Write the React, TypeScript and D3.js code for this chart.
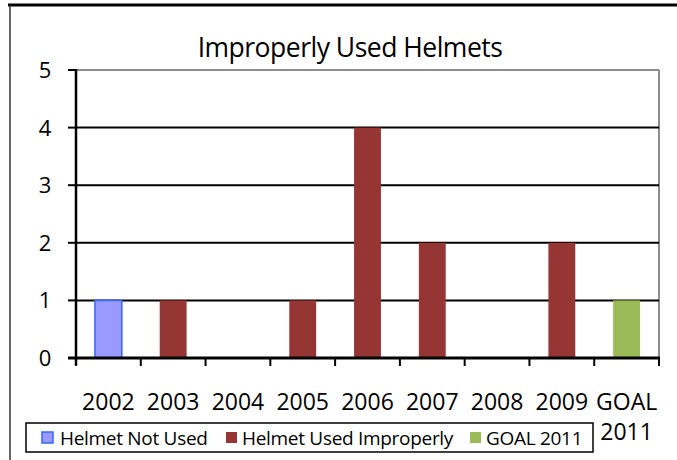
import React from "react";
import * as d3 from "d3";

const categories = ["2002", "2003", "2004", "2005", "2006", "2007", "2008", "2009", "GOAL 2011"];
const helmetNotUsed = [1, 0, 0, 0, 0, 0, 0, 0, 0];
const helmetUsedImproperly = [0, 1, 0, 1, 4, 2, 0, 2, 0];
const goal2011 = [0, 0, 0, 0, 0, 0, 0, 0, 1];
const yTicks = [0, 1, 2, 3, 4, 5];
const seriesNames = ["Helmet Not Used", "Helmet Used Improperly", "GOAL 2011"];

const W = 677;
const H = 460;
const FONT = "'Open Sans', 'Noto Sans', sans-serif";

export default function App() {
  const plot = { left: 76, right: 659, top: 70, bottom: 358 };
  const x = d3.scaleBand<string>().domain(categories).range([plot.left, plot.right]).paddingInner(0).paddingOuter(0);
  const y = d3.scaleLinear().domain([0, 5]).range([plot.bottom, plot.top]);
  const barW = x.bandwidth() * 0.415;

  const series = [
    { name: seriesNames[0], values: helmetNotUsed, fill: "#9999FF", stroke: "#3366FF" },
    { name: seriesNames[1], values: helmetUsedImproperly, fill: "#963634", stroke: "none" },
    { name: seriesNames[2], values: goal2011, fill: "#9BBB59", stroke: "none" },
  ];

  const bounds = categories.map((_, i) => plot.left + i * x.step()).concat([plot.right]);

  const legendItems = [
    { sx: 42, tx: 60 },
    { sx: 226, tx: 242 },
    { sx: 470, tx: 486 },
  ];

  return (
    <svg width={W} height={H} style={{ position: "absolute", left: 0, top: 0, background: "#fff" }} fontFamily={FONT}>
      <rect x={0} y={0} width={W} height={H} fill="#fff" />
      {/* outer frame */}
      <line x1={8} x2={W} y1={5} y2={5} stroke="#000" strokeWidth={3} />
      <line x1={10} x2={10} y1={5} y2={H} stroke="#333" strokeWidth={1.5} />

      {/* title */}
      <text x={350} y={57} textAnchor="middle" fontSize={26.5} fill="#000" letterSpacing={-0.5}>
        Improperly Used Helmets
      </text>

      {/* plot border (top/right) */}
      <line x1={plot.left} x2={plot.right} y1={plot.top} y2={plot.top} stroke="#8c8c8c" strokeWidth={2} />
      <line x1={plot.right} x2={plot.right} y1={plot.top} y2={plot.bottom} stroke="#8c8c8c" strokeWidth={2} />

      {/* gridlines */}
      {yTicks.filter((t) => t > 0 && t < 5).map((t) => (
        <line key={t} x1={plot.left} x2={plot.right} y1={y(t)} y2={y(t)} stroke="#000" strokeWidth={2} />
      ))}

      {/* bars */}
      {series.map((s) =>
        s.values.map((v, i) =>
          v > 0 ? (
            <rect
              key={s.name + i}
              x={x(categories[i])! + (x.bandwidth() - barW) / 2}
              y={y(v)}
              width={barW}
              height={y(0) - y(v)}
              fill={s.fill}
              stroke={s.stroke}
              strokeWidth={s.stroke === "none" ? 0 : 1.5}
            />
          ) : null
        )
      )}

      {/* y axis */}
      <line x1={plot.left} x2={plot.left} y1={plot.top - 1} y2={plot.bottom + 7} stroke="#000" strokeWidth={2.5} />
      {yTicks.map((t) => (
        <g key={t}>
          <line x1={plot.left - 8} x2={plot.left} y1={y(t)} y2={y(t)} stroke="#000" strokeWidth={2} />
          <text x={45} y={y(t) + 8} textAnchor="middle" fontSize={22} fill="#000">
            {t}
          </text>
        </g>
      ))}

      {/* x axis */}
      <line x1={plot.left - 8} x2={plot.right + 1} y1={plot.bottom} y2={plot.bottom} stroke="#000" strokeWidth={3} />
      {bounds.map((b, i) => (
        <line key={i} x1={b} x2={b} y1={plot.bottom} y2={plot.bottom + 8} stroke="#000" strokeWidth={2} />
      ))}
      {categories.map((c) => {
        const cx = x(c)! + x.bandwidth() / 2;
        const parts = c.split(" ");
        return (
          <text key={c} x={cx} y={410} textAnchor="middle" fontSize={23} fill="#000">
            {parts.map((p, j) => (
              <tspan key={j} x={cx} dy={j === 0 ? 0 : 30}>
                {p}
              </tspan>
            ))}
          </text>
        );
      })}

      {/* legend */}
      <rect x={26} y={423} width={567} height={29} fill="#fff" stroke="#000" strokeWidth={1.5} />
      {series.map((s, i) => (
        <g key={s.name}>
          <rect
            x={legendItems[i].sx}
            y={432}
            width={11}
            height={11}
            fill={s.fill}
            stroke={s.stroke}
            strokeWidth={s.stroke === "none" ? 0 : 1.5}
          />
          <text x={legendItems[i].tx} y={445} fontSize={19} fill="#000" letterSpacing={-0.3}>
            {s.name}
          </text>
        </g>
      ))}
    </svg>
  );
}
